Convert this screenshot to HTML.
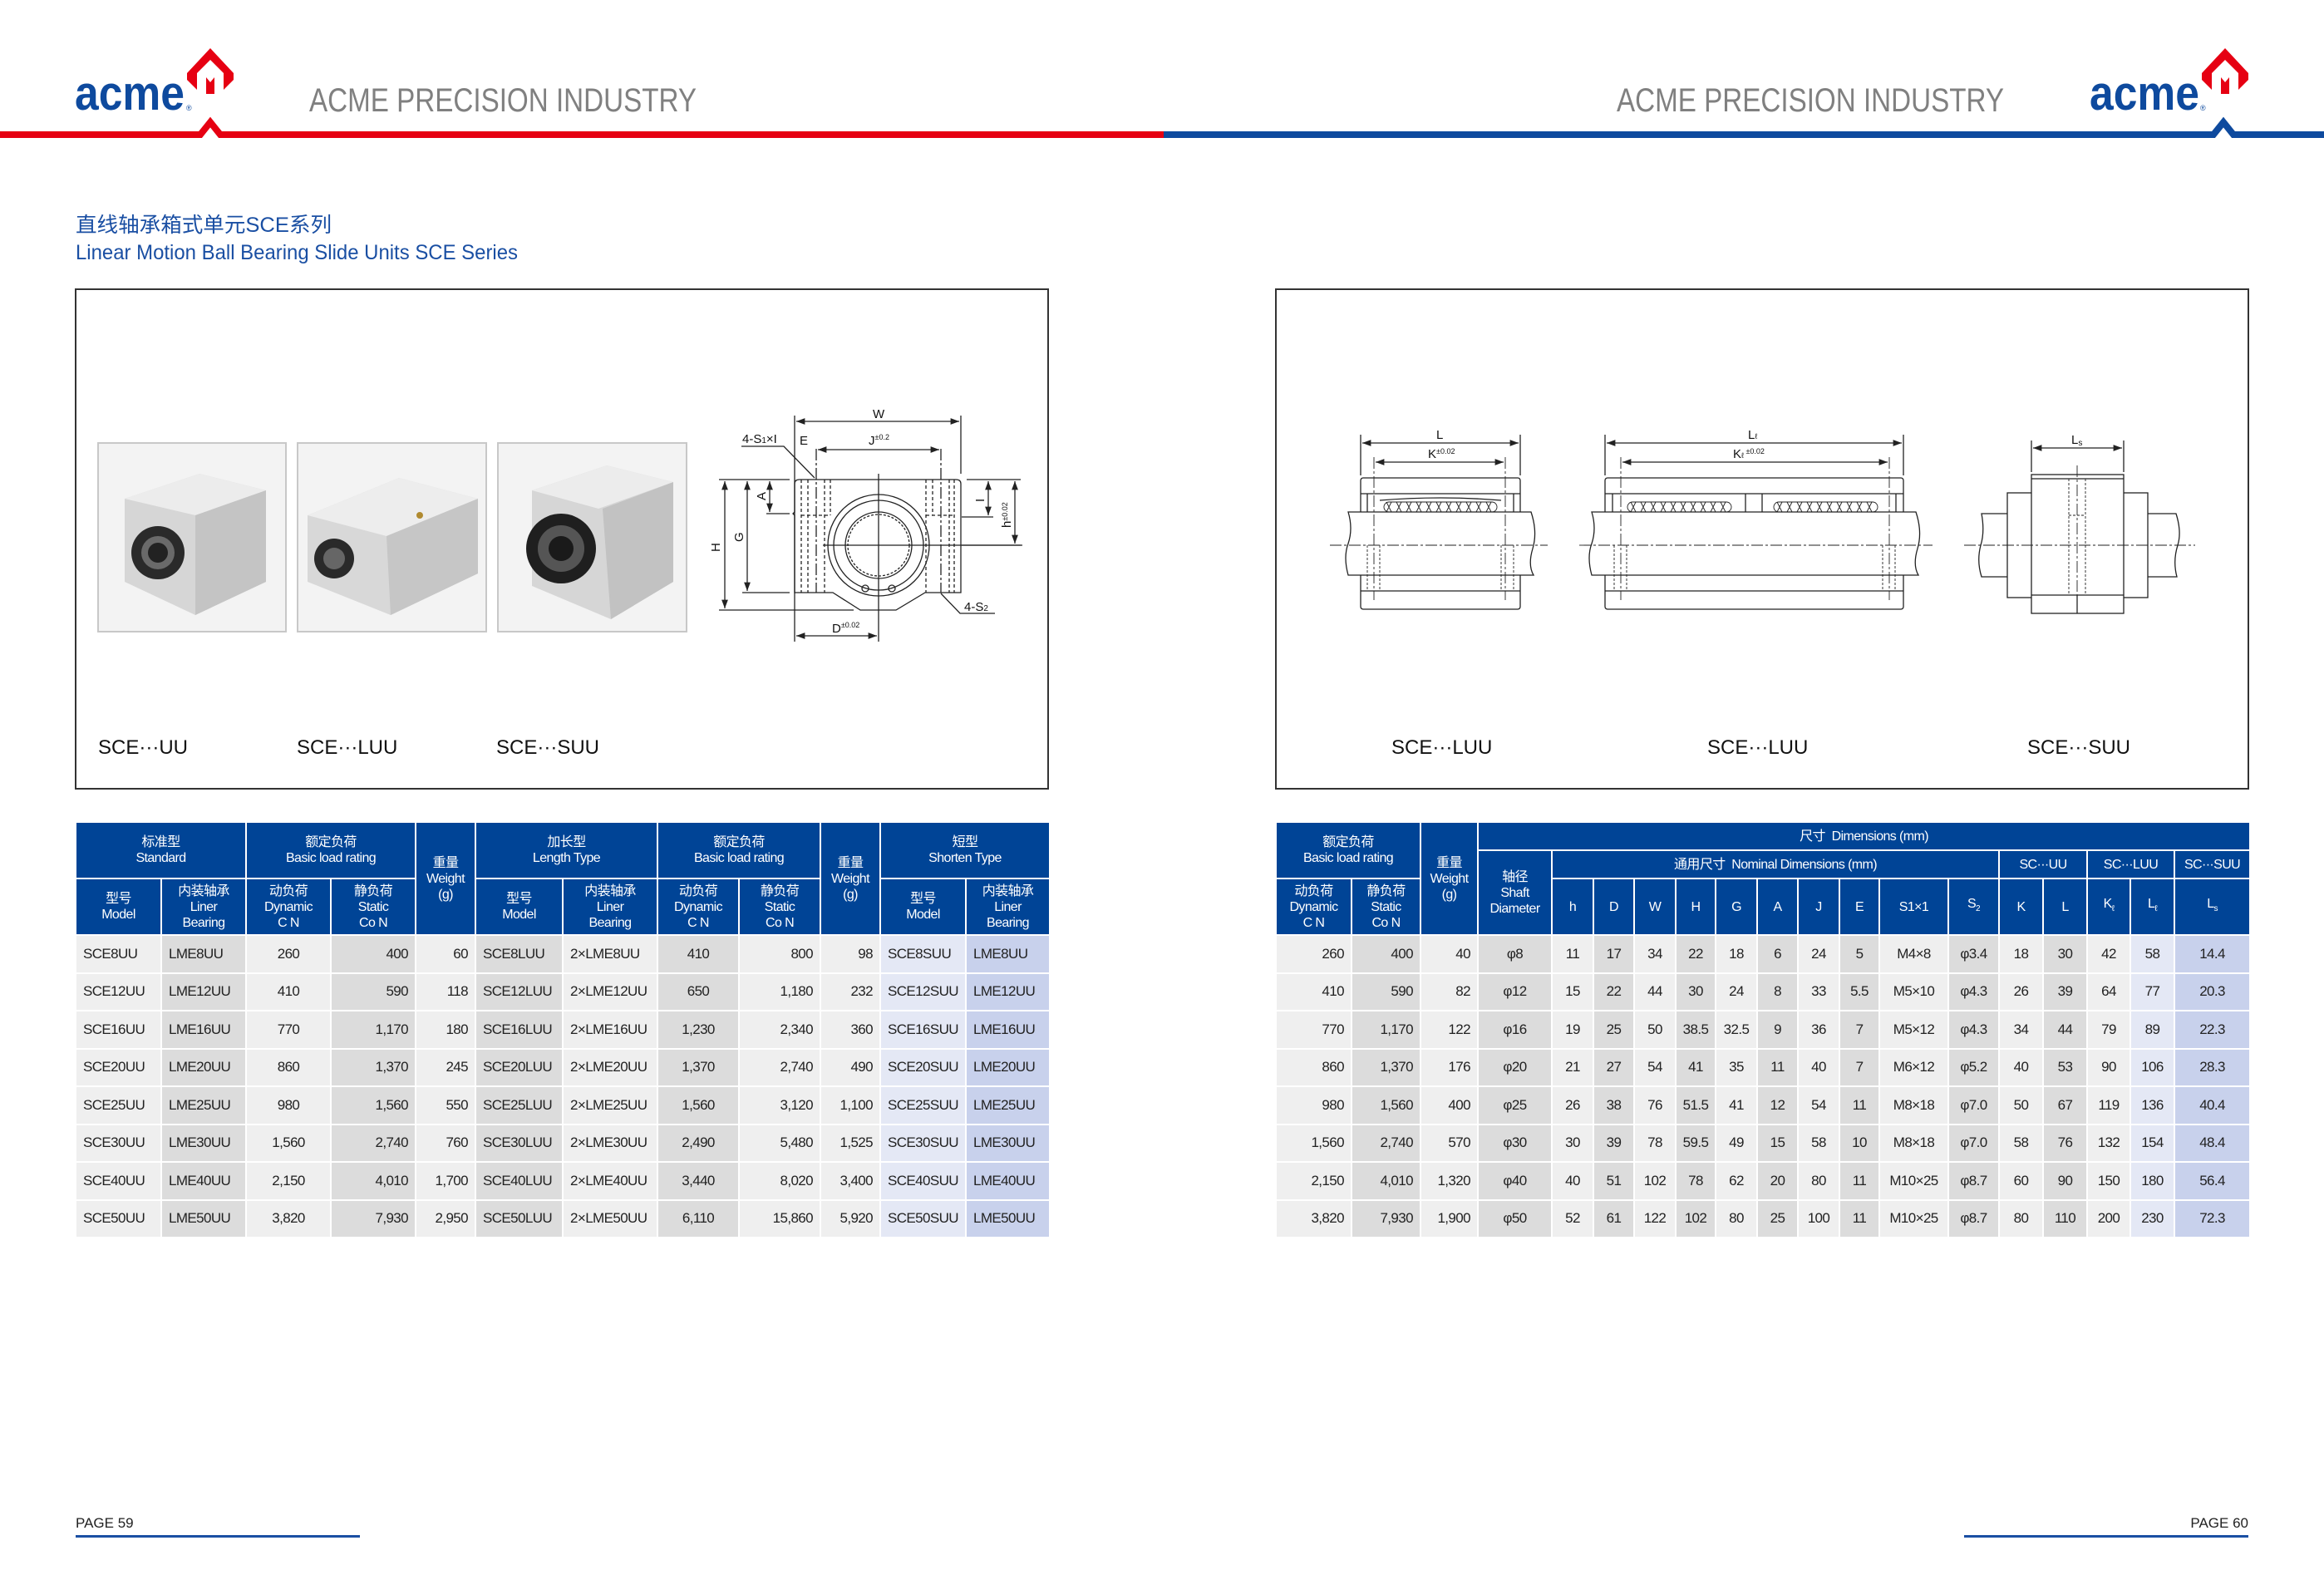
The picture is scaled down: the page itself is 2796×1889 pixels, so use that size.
<!DOCTYPE html>
<html><head><meta charset="utf-8">
<style>
html,body{margin:0;padding:0;background:#fff;}
body{width:2796px;height:1889px;position:relative;overflow:hidden;font-family:"Liberation Sans","Noto Sans CJK SC",sans-serif;}
svg.page{position:absolute;left:0;top:0;}
table{position:absolute;border-collapse:collapse;table-layout:fixed;font-family:"Liberation Sans","Noto Sans CJK SC",sans-serif;letter-spacing:-0.6px;}
td{padding:0;border:2px solid #fff;overflow:hidden;white-space:nowrap;}
thead td{background:#004496;color:#fff;text-align:center;font-size:16px;line-height:19px;vertical-align:middle;}
tbody td{height:43.5px;font-size:17px;color:#222;}
.L{background:#efefef}.D{background:#dcdcdc}.P{background:#e4e8f5}.Q{background:#c8d1ec}
.l{text-align:left;padding-left:8px}.r{text-align:right;padding-right:8px}.c{text-align:center}
</style></head><body>
<svg class="page" width="2796" height="1889" viewBox="0 0 2796 1889" xmlns="http://www.w3.org/2000/svg">
<polyline points="0,162 241,162 253,147 265,162 1400,162" fill="none" stroke="#e60012" stroke-width="8"/>
<polyline points="1400,162 2663,162 2675,147 2687,162 2796,162" fill="none" stroke="#0e4a9e" stroke-width="8"/>
<text x="90" y="132" font-family="Liberation Sans" font-weight="bold" font-size="58" fill="#0e4a9e" textLength="132" lengthAdjust="spacingAndGlyphs">acme</text>
<text x="224" y="133" font-size="9" fill="#0e4a9e">®</text>
<path d="M253,58 L281,88 L281,96 L269,108 L269,88 L253,72 L237,88 L237,108 L225,96 L225,88 Z" fill="#e60012"/>
<path d="M248,93 L253,99 L258,93 L258,113 L248,113 Z" fill="#e60012"/>
<text x="372" y="134" font-size="40" fill="#808080" textLength="466" lengthAdjust="spacingAndGlyphs">ACME PRECISION INDUSTRY</text>
<text x="1945" y="134" font-size="40" fill="#808080" textLength="466" lengthAdjust="spacingAndGlyphs">ACME PRECISION INDUSTRY</text>
<text x="2514" y="132" font-family="Liberation Sans" font-weight="bold" font-size="58" fill="#0e4a9e" textLength="132" lengthAdjust="spacingAndGlyphs">acme</text>
<text x="2647" y="133" font-size="9" fill="#0e4a9e">®</text>
<path d="M2677,58 L2705,88 L2705,96 L2693,108 L2693,88 L2677,72 L2661,88 L2661,108 L2649,96 L2649,88 Z" fill="#e60012"/>
<path d="M2672,93 L2677,99 L2682,93 L2682,113 L2672,113 Z" fill="#e60012"/>
<text x="91" y="279" font-family="Liberation Sans,Noto Sans CJK SC,sans-serif" font-size="25" fill="#1a4fa3" textLength="308" lengthAdjust="spacingAndGlyphs">直线轴承箱式单元SCE系列</text>
<text x="91" y="312" font-size="25" fill="#1a4fa3" textLength="532" lengthAdjust="spacingAndGlyphs">Linear Motion Ball Bearing Slide Units SCE Series</text>
<rect x="91" y="348" width="1170" height="601" fill="none" stroke="#333" stroke-width="2"/>
<rect x="1535" y="348" width="1170" height="601" fill="none" stroke="#333" stroke-width="2"/>
<g>
 <rect x="118" y="533" width="226" height="227" fill="#f3f3f3" stroke="#c8c8c8" stroke-width="2"/>
 <polygon points="150,600 240,570 320,590 320,700 235,740 150,700" fill="#d6d6d6"/>
 <polygon points="150,600 240,570 320,590 235,620" fill="#ececec"/>
 <polygon points="235,620 320,590 320,700 235,740" fill="#c4c4c4"/>
 <circle cx="190" cy="665" r="32" fill="#2a2a2a"/><circle cx="190" cy="665" r="20" fill="#6a6a6a"/><circle cx="190" cy="665" r="12" fill="#222"/>
</g>
<g>
 <rect x="358" y="533" width="227" height="227" fill="#f3f3f3" stroke="#c8c8c8" stroke-width="2"/>
 <polygon points="370,620 480,575 575,600 575,690 470,740 370,700" fill="#d8d8d8"/>
 <polygon points="370,620 480,575 575,600 465,645" fill="#ededed"/>
 <polygon points="465,645 575,600 575,690 470,740" fill="#c6c6c6"/>
 <circle cx="402" cy="672" r="24" fill="#2a2a2a"/><circle cx="402" cy="672" r="13" fill="#666"/>
 <circle cx="505" cy="620" r="4" fill="#b08a30"/>
</g>
<g>
 <rect x="599" y="533" width="227" height="227" fill="#f3f3f3" stroke="#c8c8c8" stroke-width="2"/>
 <polygon points="640,590 730,560 810,580 810,700 735,745 640,705" fill="#d6d6d6"/>
 <polygon points="640,590 730,560 810,580 720,612" fill="#ececec"/>
 <polygon points="725,612 810,580 810,700 735,745" fill="#c2c2c2"/>
 <circle cx="675" cy="660" r="42" fill="#1f1f1f"/><circle cx="675" cy="660" r="28" fill="#555"/><circle cx="675" cy="660" r="15" fill="#1a1a1a"/>
</g>
<g font-size="24" fill="#111">
<text x="118" y="907">SCE···UU</text>
<text x="357" y="907">SCE···LUU</text>
<text x="597" y="907">SCE···SUU</text>
<text x="1674" y="907">SCE···LUU</text>
<text x="2054" y="907">SCE···LUU</text>
<text x="2439" y="907">SCE···SUU</text>
</g>
<defs><marker id="ar" markerWidth="8" markerHeight="6" refX="8" refY="3" orient="auto-start-reverse"><path d="M0,0 L8,3 L0,6 Z" fill="#222"/></marker></defs>
<g fill="none" stroke="#222" stroke-width="1.3">
 <path d="M956,582 Q956,577 962,577 L1150,577 Q1156,577 1156,582 L1156,713 L1113,713 L1078,734 L1035,734 L1002,713 L956,713 L956,620 L954,618 L956,616 Z"/>
 <circle cx="1057" cy="656" r="61"/><circle cx="1057" cy="656" r="54"/><circle cx="1057" cy="656" r="40"/>
 <circle cx="1057" cy="656" r="37" stroke-dasharray="3,2"/>
 <circle cx="1041" cy="708" r="4"/><circle cx="1073" cy="708" r="4"/>
 <g stroke-dasharray="4,3"><line x1="964" y1="577" x2="964" y2="713"/><line x1="972" y1="577" x2="972" y2="713"/><line x1="992" y1="577" x2="992" y2="713"/><line x1="999" y1="577" x2="999" y2="620"/><line x1="1114" y1="577" x2="1114" y2="713"/><line x1="1122" y1="577" x2="1122" y2="620"/><line x1="1142" y1="577" x2="1142" y2="713"/><line x1="1148" y1="577" x2="1148" y2="713"/><line x1="964" y1="620" x2="999" y2="620"/><line x1="1114" y1="620" x2="1148" y2="620"/></g>
 <g stroke-dasharray="14,3,3,3"><line x1="982" y1="540" x2="982" y2="713"/><line x1="1132" y1="540" x2="1132" y2="713"/></g>
 <line x1="1057" y1="570" x2="1057" y2="772"/><line x1="990" y1="656" x2="1230" y2="656"/>
 <line x1="956" y1="500" x2="956" y2="772"/><line x1="1156" y1="500" x2="1156" y2="570"/>
 <line x1="958" y1="507" x2="1154" y2="507" marker-start="url(#ar)" marker-end="url(#ar)"/>
 <line x1="984" y1="541" x2="1130" y2="541" marker-start="url(#ar)" marker-end="url(#ar)"/>
 <polyline points="892,537 943,537 980,575"/>
 <line x1="865" y1="577" x2="950" y2="577"/><line x1="1163" y1="577" x2="1228" y2="577"/>
 <line x1="865" y1="734" x2="1027" y2="734"/><line x1="893" y1="713" x2="950" y2="713"/>
 <line x1="922" y1="618" x2="950" y2="618"/><line x1="1157" y1="622" x2="1195" y2="622"/><line x1="1157" y1="656" x2="1228" y2="656"/>
 <line x1="872" y1="579" x2="872" y2="732" marker-start="url(#ar)" marker-end="url(#ar)"/>
 <line x1="899" y1="579" x2="899" y2="711" marker-start="url(#ar)" marker-end="url(#ar)"/>
 <line x1="926" y1="579" x2="926" y2="616" marker-start="url(#ar)" marker-end="url(#ar)"/>
 <line x1="1189" y1="579" x2="1189" y2="620" marker-start="url(#ar)" marker-end="url(#ar)"/>
 <line x1="1221" y1="579" x2="1221" y2="654" marker-start="url(#ar)" marker-end="url(#ar)"/>
 <line x1="958" y1="765" x2="1055" y2="765" marker-start="url(#ar)" marker-end="url(#ar)"/>
 <polyline points="1132,714 1155,738 1197,738"/>
</g>
<g font-size="15" fill="#111">
 <text x="1050" y="503">W</text><text x="962" y="535">E</text><text x="1045" y="535">J<tspan font-size="9" dy="-6">±0.2</tspan></text>
 <text x="893" y="533">4-S<tspan font-size="10">1</tspan>×I</text>
 <text x="1001" y="761">D<tspan font-size="9" dy="-6">±0.02</tspan></text>
 <text x="1160" y="735">4-S<tspan font-size="10">2</tspan></text>
 <text transform="translate(866,664) rotate(-90)">H</text>
 <text transform="translate(894,652) rotate(-90)">G</text>
 <text transform="translate(921,602) rotate(-90)">A</text>
 <text transform="translate(1184,604) rotate(-90)">I</text>
 <text transform="translate(1216,635) rotate(-90)">h<tspan font-size="9" dy="-4">±0.02</tspan></text>
</g>
<g fill="none" stroke="#222" stroke-width="1.3">
 <rect x="1637" y="575" width="192" height="158" rx="3" fill="#fff"/>
 <line x1="1637" y1="594" x2="1829" y2="594"/><line x1="1637" y1="711" x2="1829" y2="711"/>
 <path d="M1645,594 L1645,616 M1821,594 L1821,616 M1660,602 Q1733,596 1806,602"/>
 <g stroke-width="0.9"><rect x="1665" y="604" width="136" height="12" rx="6"/>
 <path d="M1668,604 l6,12 M1674,604 l-6,12 M1680,604 l6,12 M1686,604 l-6,12 M1692,604 l6,12 M1698,604 l-6,12 M1704,604 l6,12 M1710,604 l-6,12 M1716,604 l6,12 M1722,604 l-6,12 M1728,604 l6,12 M1734,604 l-6,12 M1740,604 l6,12 M1746,604 l-6,12 M1752,604 l6,12 M1758,604 l-6,12 M1764,604 l6,12 M1770,604 l-6,12 M1776,604 l6,12 M1782,604 l-6,12 M1788,604 l6,12 M1794,604 l-6,12"/></g>
 <path d="M1622,616 L1842,616 Q1850,640 1844,660 Q1838,680 1845,692 L1622,692 Q1616,670 1622,654 Q1628,636 1622,616 Z" fill="#fff"/>
 <g stroke-dasharray="3,2" stroke-width="0.9"><line x1="1645" y1="656" x2="1645" y2="711"/><line x1="1660" y1="656" x2="1660" y2="711"/><line x1="1806" y1="656" x2="1806" y2="711"/><line x1="1821" y1="656" x2="1821" y2="711"/></g>
 <g stroke-dasharray="14,3,3,3" stroke-width="0.9"><line x1="1653" y1="550" x2="1653" y2="722"/><line x1="1811" y1="550" x2="1811" y2="722"/><line x1="1600" y1="656" x2="1862" y2="656"/></g>
 <line x1="1637" y1="523" x2="1637" y2="572"/><line x1="1829" y1="523" x2="1829" y2="572"/>
 <line x1="1639" y1="533" x2="1827" y2="533" marker-start="url(#ar)" marker-end="url(#ar)"/>
 <line x1="1655" y1="556" x2="1809" y2="556" marker-start="url(#ar)" marker-end="url(#ar)"/>
 <rect x="1931" y="575" width="359" height="158" rx="3" fill="#fff"/>
 <line x1="1931" y1="594" x2="2290" y2="594"/><line x1="1931" y1="711" x2="2290" y2="711"/>
 <path d="M1940,594 L1940,616 M2281,594 L2281,616 M2100,594 L2100,616 M2120,594 L2120,616"/>
 <g stroke-width="0.9"><rect x="1958" y="604" width="125" height="12" rx="6"/><rect x="2134" y="604" width="125" height="12" rx="6"/>
 <path d="M1962,604 l6,12 M1968,604 l-6,12 M1974,604 l6,12 M1980,604 l-6,12 M1986,604 l6,12 M1992,604 l-6,12 M1998,604 l6,12 M2004,604 l-6,12 M2010,604 l6,12 M2016,604 l-6,12 M2022,604 l6,12 M2028,604 l-6,12 M2034,604 l6,12 M2040,604 l-6,12 M2046,604 l6,12 M2052,604 l-6,12 M2058,604 l6,12 M2064,604 l-6,12 M2070,604 l6,12 M2076,604 l-6,12 M2138,604 l6,12 M2144,604 l-6,12 M2150,604 l6,12 M2156,604 l-6,12 M2162,604 l6,12 M2168,604 l-6,12 M2174,604 l6,12 M2180,604 l-6,12 M2186,604 l6,12 M2192,604 l-6,12 M2198,604 l6,12 M2204,604 l-6,12 M2210,604 l6,12 M2216,604 l-6,12 M2222,604 l6,12 M2228,604 l-6,12 M2234,604 l6,12 M2240,604 l-6,12 M2246,604 l6,12 M2252,604 l-6,12"/></g>
 <path d="M1915,616 L2305,616 Q2313,640 2307,660 Q2301,680 2308,692 L1915,692 Q1909,670 1915,654 Q1921,636 1915,616 Z" fill="#fff"/>
 <g stroke-dasharray="3,2" stroke-width="0.9"><line x1="1942" y1="656" x2="1942" y2="711"/><line x1="1957" y1="656" x2="1957" y2="711"/><line x1="2265" y1="656" x2="2265" y2="711"/><line x1="2280" y1="656" x2="2280" y2="711"/></g>
 <g stroke-dasharray="14,3,3,3" stroke-width="0.9"><line x1="1950" y1="550" x2="1950" y2="722"/><line x1="2273" y1="550" x2="2273" y2="722"/><line x1="1900" y1="656" x2="2325" y2="656"/></g>
 <line x1="1931" y1="523" x2="1931" y2="572"/><line x1="2290" y1="523" x2="2290" y2="572"/>
 <line x1="1933" y1="533" x2="2288" y2="533" marker-start="url(#ar)" marker-end="url(#ar)"/>
 <line x1="1952" y1="556" x2="2271" y2="556" marker-start="url(#ar)" marker-end="url(#ar)"/>
 <path d="M2384,618 L2618,618 Q2625,640 2620,656 Q2614,675 2619,694 L2384,694 Q2378,675 2383,656 Q2388,640 2384,618 Z" fill="#fff"/>
 <rect x="2415" y="593" width="169" height="126" fill="#fff"/>
 <rect x="2444" y="571" width="111" height="167" fill="#fff"/>
 <line x1="2444" y1="576" x2="2555" y2="576"/><line x1="2444" y1="716" x2="2555" y2="716"/>
 <line x1="2499" y1="716" x2="2499" y2="738"/>
 <g stroke-dasharray="3,2" stroke-width="0.9"><line x1="2489" y1="576" x2="2489" y2="716"/><line x1="2509" y1="576" x2="2509" y2="716"/><line x1="2489" y1="620" x2="2509" y2="620"/></g>
 <g stroke-dasharray="14,3,3,3" stroke-width="0.9"><line x1="2499" y1="560" x2="2499" y2="716"/><line x1="2363" y1="656" x2="2641" y2="656"/></g>
 <line x1="2444" y1="530" x2="2444" y2="568"/><line x1="2555" y1="530" x2="2555" y2="568"/>
 <line x1="2446" y1="539" x2="2553" y2="539" marker-start="url(#ar)" marker-end="url(#ar)"/>
</g>
<g font-size="15" fill="#111">
 <text x="1728" y="528">L</text><text x="1718" y="551">K<tspan font-size="9" dy="-5">±0.02</tspan></text>
 <text x="2103" y="528">L<tspan font-size="9">ℓ</tspan></text><text x="2085" y="551">K<tspan font-size="9">ℓ</tspan><tspan font-size="9" dy="-5"> ±0.02</tspan></text>
 <text x="2492" y="534">L<tspan font-size="10" dy="2">s</tspan></text>
</g>
<text x="91" y="1838" font-size="17" fill="#222">PAGE 59</text>
<rect x="91" y="1847" width="342" height="3" fill="#1a4fa3"/>
<text x="2705" y="1838" font-size="17" fill="#222" text-anchor="end">PAGE 60</text>
<rect x="2363" y="1847" width="342" height="3" fill="#1a4fa3"/>
</svg>

<table style="left:90px;top:988px;width:1172px;">
<colgroup><col style="width:103px"><col style="width:102px"><col style="width:102px"><col style="width:102px"><col style="width:72px"><col style="width:105px"><col style="width:114px"><col style="width:98px"><col style="width:98px"><col style="width:72px"><col style="width:103px"><col style="width:101px"></colgroup>
<thead>
<tr style="height:68px"><td colspan="2">标准型<br>Standard</td><td colspan="2">额定负荷<br>Basic load rating</td><td rowspan="2">重量<br>Weight<br>(g)</td><td colspan="2">加长型<br>Length Type</td><td colspan="2">额定负荷<br>Basic load rating</td><td rowspan="2">重量<br>Weight<br>(g)</td><td colspan="2">短型<br>Shorten Type</td></tr>
<tr style="height:68px"><td>型号<br>Model</td><td>内装轴承<br>Liner<br>Bearing</td><td>动负荷<br>Dynamic<br>C N</td><td>静负荷<br>Static<br>Co N</td><td>型号<br>Model</td><td>内装轴承<br>Liner<br>Bearing</td><td>动负荷<br>Dynamic<br>C N</td><td>静负荷<br>Static<br>Co N</td><td>型号<br>Model</td><td>内装轴承<br>Liner<br>Bearing</td></tr>
</thead>
<tbody>
<tr><td class="L l">SCE8UU</td><td class="D l">LME8UU</td><td class="L c">260</td><td class="D r">400</td><td class="L r">60</td><td class="D l">SCE8LUU</td><td class="L l">2×LME8UU</td><td class="D c">410</td><td class="L r">800</td><td class="L r">98</td><td class="P l">SCE8SUU</td><td class="Q l">LME8UU</td></tr>
<tr><td class="L l">SCE12UU</td><td class="D l">LME12UU</td><td class="L c">410</td><td class="D r">590</td><td class="L r">118</td><td class="D l">SCE12LUU</td><td class="L l">2×LME12UU</td><td class="D c">650</td><td class="L r">1,180</td><td class="L r">232</td><td class="P l">SCE12SUU</td><td class="Q l">LME12UU</td></tr>
<tr><td class="L l">SCE16UU</td><td class="D l">LME16UU</td><td class="L c">770</td><td class="D r">1,170</td><td class="L r">180</td><td class="D l">SCE16LUU</td><td class="L l">2×LME16UU</td><td class="D c">1,230</td><td class="L r">2,340</td><td class="L r">360</td><td class="P l">SCE16SUU</td><td class="Q l">LME16UU</td></tr>
<tr><td class="L l">SCE20UU</td><td class="D l">LME20UU</td><td class="L c">860</td><td class="D r">1,370</td><td class="L r">245</td><td class="D l">SCE20LUU</td><td class="L l">2×LME20UU</td><td class="D c">1,370</td><td class="L r">2,740</td><td class="L r">490</td><td class="P l">SCE20SUU</td><td class="Q l">LME20UU</td></tr>
<tr><td class="L l">SCE25UU</td><td class="D l">LME25UU</td><td class="L c">980</td><td class="D r">1,560</td><td class="L r">550</td><td class="D l">SCE25LUU</td><td class="L l">2×LME25UU</td><td class="D c">1,560</td><td class="L r">3,120</td><td class="L r">1,100</td><td class="P l">SCE25SUU</td><td class="Q l">LME25UU</td></tr>
<tr><td class="L l">SCE30UU</td><td class="D l">LME30UU</td><td class="L c">1,560</td><td class="D r">2,740</td><td class="L r">760</td><td class="D l">SCE30LUU</td><td class="L l">2×LME30UU</td><td class="D c">2,490</td><td class="L r">5,480</td><td class="L r">1,525</td><td class="P l">SCE30SUU</td><td class="Q l">LME30UU</td></tr>
<tr><td class="L l">SCE40UU</td><td class="D l">LME40UU</td><td class="L c">2,150</td><td class="D r">4,010</td><td class="L r">1,700</td><td class="D l">SCE40LUU</td><td class="L l">2×LME40UU</td><td class="D c">3,440</td><td class="L r">8,020</td><td class="L r">3,400</td><td class="P l">SCE40SUU</td><td class="Q l">LME40UU</td></tr>
<tr><td class="L l">SCE50UU</td><td class="D l">LME50UU</td><td class="L c">3,820</td><td class="D r">7,930</td><td class="L r">2,950</td><td class="D l">SCE50LUU</td><td class="L l">2×LME50UU</td><td class="D c">6,110</td><td class="L r">15,860</td><td class="L r">5,920</td><td class="P l">SCE50SUU</td><td class="Q l">LME50UU</td></tr>
</tbody></table>

<table style="left:1534px;top:988px;width:1172px;">
<colgroup><col style="width:91px"><col style="width:83px"><col style="width:69px"><col style="width:89px"><col style="width:50px"><col style="width:49px"><col style="width:50px"><col style="width:48px"><col style="width:50px"><col style="width:49px"><col style="width:50px"><col style="width:48px"><col style="width:83px"><col style="width:61px"><col style="width:53px"><col style="width:53px"><col style="width:52px"><col style="width:53px"><col style="width:91px"></colgroup>
<thead>
<tr style="height:34px"><td colspan="2" rowspan="2">额定负荷<br>Basic load rating</td><td rowspan="3">重量<br>Weight<br>(g)</td><td colspan="16">尺寸&nbsp; Dimensions (mm)</td></tr>
<tr style="height:34px"><td rowspan="2">轴径<br>Shaft<br>Diameter</td><td colspan="10">通用尺寸&nbsp; Nominal Dimensions (mm)</td><td colspan="2">SC···UU</td><td colspan="2">SC···LUU</td><td>SC···SUU</td></tr>
<tr style="height:68px"><td>动负荷<br>Dynamic<br>C N</td><td>静负荷<br>Static<br>Co N</td><td>h</td><td>D</td><td>W</td><td>H</td><td>G</td><td>A</td><td>J</td><td>E</td><td>S1×1</td><td>S<sub style="font-size:10px">2</sub></td><td>K</td><td>L</td><td>K<sub style="font-size:10px">ℓ</sub></td><td>L<sub style="font-size:10px">ℓ</sub></td><td>L<sub style="font-size:10px">s</sub></td></tr>
</thead>
<tbody style="text-align:center">
<tr><td class="L r">260</td><td class="D r">400</td><td class="L r">40</td><td class="D">φ8</td><td class="L">11</td><td class="D">17</td><td class="L">34</td><td class="D">22</td><td class="L">18</td><td class="D">6</td><td class="L">24</td><td class="D">5</td><td class="L">M4×8</td><td class="D">φ3.4</td><td class="L">18</td><td class="D">30</td><td class="L">42</td><td class="P">58</td><td class="Q">14.4</td></tr>
<tr><td class="L r">410</td><td class="D r">590</td><td class="L r">82</td><td class="D">φ12</td><td class="L">15</td><td class="D">22</td><td class="L">44</td><td class="D">30</td><td class="L">24</td><td class="D">8</td><td class="L">33</td><td class="D">5.5</td><td class="L">M5×10</td><td class="D">φ4.3</td><td class="L">26</td><td class="D">39</td><td class="L">64</td><td class="P">77</td><td class="Q">20.3</td></tr>
<tr><td class="L r">770</td><td class="D r">1,170</td><td class="L r">122</td><td class="D">φ16</td><td class="L">19</td><td class="D">25</td><td class="L">50</td><td class="D">38.5</td><td class="L">32.5</td><td class="D">9</td><td class="L">36</td><td class="D">7</td><td class="L">M5×12</td><td class="D">φ4.3</td><td class="L">34</td><td class="D">44</td><td class="L">79</td><td class="P">89</td><td class="Q">22.3</td></tr>
<tr><td class="L r">860</td><td class="D r">1,370</td><td class="L r">176</td><td class="D">φ20</td><td class="L">21</td><td class="D">27</td><td class="L">54</td><td class="D">41</td><td class="L">35</td><td class="D">11</td><td class="L">40</td><td class="D">7</td><td class="L">M6×12</td><td class="D">φ5.2</td><td class="L">40</td><td class="D">53</td><td class="L">90</td><td class="P">106</td><td class="Q">28.3</td></tr>
<tr><td class="L r">980</td><td class="D r">1,560</td><td class="L r">400</td><td class="D">φ25</td><td class="L">26</td><td class="D">38</td><td class="L">76</td><td class="D">51.5</td><td class="L">41</td><td class="D">12</td><td class="L">54</td><td class="D">11</td><td class="L">M8×18</td><td class="D">φ7.0</td><td class="L">50</td><td class="D">67</td><td class="L">119</td><td class="P">136</td><td class="Q">40.4</td></tr>
<tr><td class="L r">1,560</td><td class="D r">2,740</td><td class="L r">570</td><td class="D">φ30</td><td class="L">30</td><td class="D">39</td><td class="L">78</td><td class="D">59.5</td><td class="L">49</td><td class="D">15</td><td class="L">58</td><td class="D">10</td><td class="L">M8×18</td><td class="D">φ7.0</td><td class="L">58</td><td class="D">76</td><td class="L">132</td><td class="P">154</td><td class="Q">48.4</td></tr>
<tr><td class="L r">2,150</td><td class="D r">4,010</td><td class="L r">1,320</td><td class="D">φ40</td><td class="L">40</td><td class="D">51</td><td class="L">102</td><td class="D">78</td><td class="L">62</td><td class="D">20</td><td class="L">80</td><td class="D">11</td><td class="L">M10×25</td><td class="D">φ8.7</td><td class="L">60</td><td class="D">90</td><td class="L">150</td><td class="P">180</td><td class="Q">56.4</td></tr>
<tr><td class="L r">3,820</td><td class="D r">7,930</td><td class="L r">1,900</td><td class="D">φ50</td><td class="L">52</td><td class="D">61</td><td class="L">122</td><td class="D">102</td><td class="L">80</td><td class="D">25</td><td class="L">100</td><td class="D">11</td><td class="L">M10×25</td><td class="D">φ8.7</td><td class="L">80</td><td class="D">110</td><td class="L">200</td><td class="P">230</td><td class="Q">72.3</td></tr>
</tbody></table>
</body></html>
